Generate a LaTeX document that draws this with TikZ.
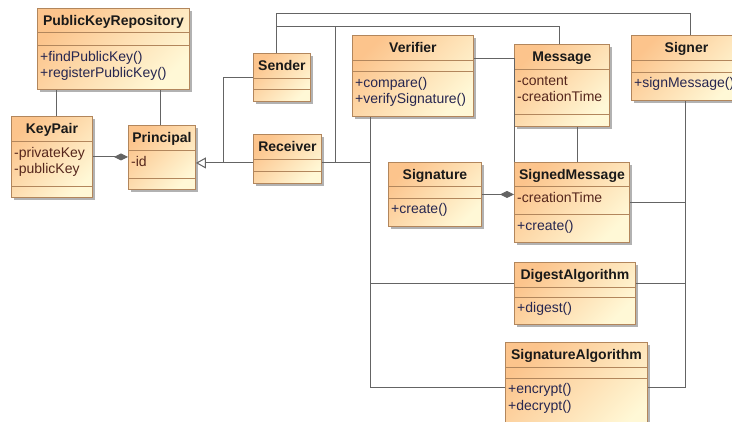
\documentclass[tikz,border=0pt]{standalone}
\usepackage{fontspec}
\setmainfont{Liberation Sans}
\usetikzlibrary{arrows.meta,shadows}

\definecolor{boxtop}{RGB}{252,196,140}
\definecolor{boxbot}{RGB}{255,248,214}
\definecolor{boxedge}{RGB}{178,134,92}
\definecolor{wire}{RGB}{100,100,100}
\definecolor{titleink}{RGB}{25,25,25}
\definecolor{attrink}{RGB}{85,38,28}
\definecolor{opink}{RGB}{38,38,80}

\tikzset{
  classnode/.style={rectangle, draw=boxedge, line width=0.9pt, inner sep=0pt,
    top color=boxtop, bottom color=boxbot, shading angle=45,
    drop shadow={shadow xshift=3pt, shadow yshift=-3pt, fill=black, opacity=0.3}},
  compart/.style={draw=boxedge, line width=0.9pt},
  classtitle/.style={font=\fontsize{14}{16}\selectfont\bfseries, text=titleink, inner sep=0pt, anchor=base},
  attrtext/.style={font=\fontsize{14}{16}\selectfont, text=attrink, inner sep=0pt, anchor=base west},
  optext/.style={font=\fontsize{14}{16}\selectfont, text=opink, inner sep=0pt, anchor=base west},
  assoc/.style={draw=wire, line width=1pt},
  composite/.style={assoc, -{Diamond[length=14pt,width=7pt,fill=wire]}},
  generalize/.style={assoc, -{Triangle[length=10pt,width=11pt,fill=white]}},
}

% class box: name, x, y, width, height, header depth, attribute depth, title
\newcommand\umlclass[8]{%
  \node[classnode, minimum width=#4pt, minimum height=#5pt, anchor=north west] (#1) at (#2,#3) {};
  \draw[compart] ([yshift=-#6pt]#1.north west) -- ([yshift=-#6pt]#1.north east);
  \draw[compart] ([yshift=-#7pt]#1.north west) -- ([yshift=-#7pt]#1.north east);
  \node[classtitle] (#1-title) at ([yshift=-17pt]#1.north) {#8};
}
% one member line: class, suffix, baseline depth, style, text
\newcommand\umlmember[5]{%
  \node[#4] (#1-#2) at ([xshift=3pt,yshift=-#3pt]#1.north west) {#5};
}

\begin{document}
\begin{tikzpicture}[x=1pt,y=-1pt]
\useasboundingbox (0,0) rectangle (732,421);
\clip (0,0) rectangle (732,421);

% classes
\umlclass{repo}{37}{8}{152}{81}{24}{37}{PublicKeyRepository}
\umlclass{keypair}{11}{116}{81}{81}{25}{70}{KeyPair}
\umlclass{principal}{128}{125}{67}{64}{25}{53}{Principal}
\umlclass{sender}{253}{53}{57}{48}{25}{36}{Sender}
\umlclass{receiver}{253}{134}{68}{49}{25}{37}{Receiver}
\umlclass{verifier}{352}{35}{121}{81}{25}{36}{Verifier}
\umlclass{message}{514}{44}{95}{82}{25}{70}{Message}
\umlclass{signer}{631}{35}{110}{65}{25}{37}{Signer}
\umlclass{signature}{388}{162}{93}{64}{24}{36}{Signature}
\umlclass{signedmessage}{514}{162}{115}{80}{24}{52}{SignedMessage}
\umlclass{digest}{514}{262}{121}{62}{25}{35}{DigestAlgorithm}
\umlclass{sigalg}{505}{342}{142}{95}{25}{36}{SignatureAlgorithm}

% members
\umlmember{repo}{m1}{53}{optext}{+findPublicKey()}
\umlmember{repo}{m2}{69}{optext}{+registerPublicKey()}
\umlmember{keypair}{a1}{41}{attrtext}{-privateKey}
\umlmember{keypair}{a2}{57.5}{attrtext}{-publicKey}
\umlmember{principal}{a1}{41}{attrtext}{-id}
\umlmember{verifier}{m1}{52}{optext}{+compare()}
\umlmember{verifier}{m2}{68.5}{optext}{+verifySignature()}
\umlmember{message}{a1}{41}{attrtext}{-content}
\umlmember{message}{a2}{57.5}{attrtext}{-creationTime}
\umlmember{signer}{m1}{52}{optext}{+signMessage()}
\umlmember{signature}{m1}{51}{optext}{+create()}
\umlmember{signedmessage}{a1}{40}{attrtext}{-creationTime}
\umlmember{signedmessage}{m1}{68}{optext}{+create()}
\umlmember{digest}{m1}{50}{optext}{+digest()}
\umlmember{sigalg}{m1}{51.5}{optext}{+encrypt()}
\umlmember{sigalg}{m2}{68}{optext}{+decrypt()}

% connector ports and routing rails
\coordinate (railtop) at (0,13.5);
\coordinate (railmid) at (0,26.5);
\coordinate (keypairup) at ([xshift=4.5pt]keypair.north);
\coordinate (principalup) at ([xshift=-1pt]principal.north);
\coordinate (genjoin) at (223.5,162.5);
\coordinate (senderup) at ([xshift=-5pt]sender.north);
\coordinate (signerup) at ([xshift=4.5pt]signer.north);
\coordinate (messageup) at ([xshift=-2pt]message.north);
\coordinate (receiverport) at ([yshift=-4pt]receiver.east);
\coordinate (receiverleft) at ([yshift=-4pt]receiver.west);
\coordinate (recjoin) at ([xshift=13.5pt]receiverport);
\coordinate (verifierdown) at ([xshift=-42pt]verifier.south);
\coordinate (verifierport) at ([yshift=-23.5pt]verifier.north east);
\coordinate (messagedown) at ([xshift=16pt]message.south);
\coordinate (signerdown) at ([xshift=-0.5pt]signer.south);
\coordinate (digestwest) at ([yshift=9.5pt]digest.west);
\coordinate (digesteast) at ([yshift=9.5pt]digest.east);
\coordinate (sigalgwest) at ([yshift=-45.5pt]sigalg.north west);
\coordinate (sigalgeast) at ([yshift=-45.5pt]sigalg.north east);

% repository associations
\draw[assoc] (keypairup) -- (keypairup |- repo.south);
\draw[assoc] (principalup) -- (principalup |- repo.south);

% composition and generalization
\draw[composite] (keypair.east) -- (keypair.east -| principal.west);
\draw[generalize] (receiverleft) -- (receiverleft -| principal.east);
\draw[assoc] (sender.west) -| (genjoin);

% associations along the top rails
\draw[assoc] (senderup) -- (senderup |- railtop) -| (signerup);
\draw[assoc] (senderup) -- (senderup |- railmid) -| (messageup);
\draw[assoc] (receiverport) -| (verifierdown);
\draw[assoc] (recjoin) -- (recjoin |- railmid);

% verifier and message links
\draw[assoc] (verifierport) -| (signedmessage.north west);
\draw[assoc] (messagedown) -- (messagedown |- signedmessage.north);
\draw[composite] (signature.east) -- (signature.east -| signedmessage.west);
\draw[assoc] (digestwest) -| (verifierdown);
\draw[assoc] (sigalgwest) -| (verifierdown);

% signer links
\draw[assoc] (signedmessage.east) -| (signerdown);
\draw[assoc] (digesteast) -| (signerdown);
\draw[assoc] (sigalgeast) -| (signerdown);
\end{tikzpicture}
\end{document}
